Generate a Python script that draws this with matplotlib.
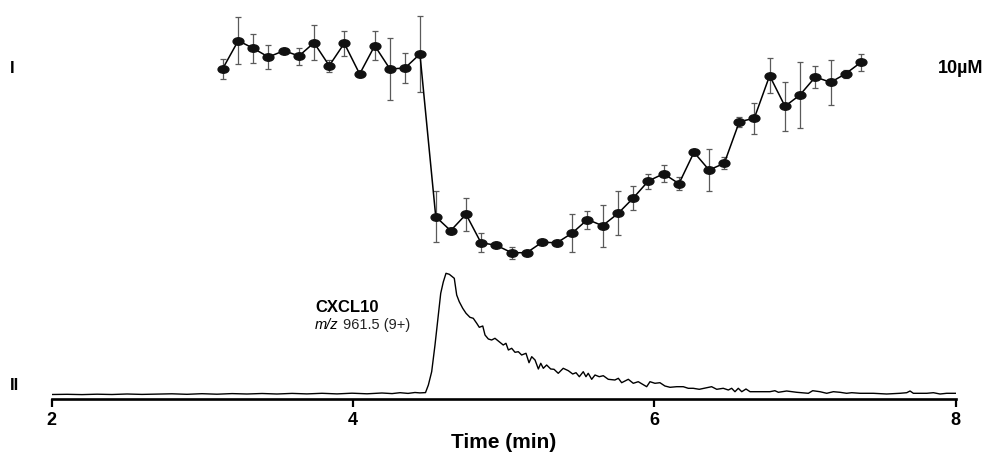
import matplotlib
matplotlib.use("Agg")
import matplotlib.pyplot as plt
from matplotlib.path import Path
from matplotlib.transforms import Affine2D

plt.rcParams["font.family"] = ["Liberation Sans", "DejaVu Sans"]

# trace I: inhibition read-out (arbitrary height units), mean +/- error
time_I = [3.135, 3.238, 3.338, 3.438, 3.542, 3.641, 3.741, 3.842, 3.942, 4.044,
          4.144, 4.245, 4.345, 4.444, 4.549, 4.648, 4.750, 4.849, 4.951, 5.053,
          5.153, 5.254, 5.354, 5.455, 5.556, 5.656, 5.760, 5.860, 5.960, 6.062,
          6.163, 6.263, 6.363, 6.464, 6.564, 6.663, 6.765, 6.867, 6.966, 7.068,
          7.170, 7.270, 7.371]
level_I = [330.3, 358.3, 350.7, 342.0, 348.3, 343.0, 356.3, 333.3, 355.7, 325.0,
           353.3, 330.0, 331.0, 345.0, 182.3, 168.3, 184.7, 156.3, 153.7, 146.3,
           146.3, 156.7, 156.3, 166.0, 179.5, 173.3, 185.7, 201.0, 218.0, 225.3,
           215.3, 246.7, 229.0, 235.7, 277.3, 280.7, 323.3, 292.7, 304.0, 322.0,
           316.7, 325.3, 336.7]
err_I = [10.0, 23.5, 14.5, 12.0, 0.0, 8.5, 17.5, 6.0, 12.5, 3.0,
         14.5, 31.0, 15.0, 38.0, 25.5, 0.0, 16.5, 9.5, 0.0, 6.0,
         0.0, 0.0, 0.0, 19.3, 9.0, 21.0, 22.0, 12.0, 7.5, 8.5,
         6.5, 0.0, 21.0, 6.0, 5.0, 15.5, 17.5, 24.5, 33.0, 11.0,
         22.5, 4.0, 8.5]

# trace II: extracted ion chromatogram of CXCL10 (arbitrary intensity units)
time_II = [2.002, 2.102, 2.201, 2.301, 2.400, 2.500, 2.599, 2.699, 2.798, 2.898,
           2.997, 3.097, 3.197, 3.296, 3.396, 3.495, 3.595, 3.694, 3.794, 3.894,
           3.993, 4.093, 4.192, 4.259, 4.312, 4.365, 4.411, 4.444, 4.481, 4.500,
           4.522, 4.544, 4.566, 4.582, 4.599, 4.617, 4.639, 4.672, 4.688, 4.705,
           4.728, 4.750, 4.776, 4.798, 4.821, 4.838, 4.861, 4.876, 4.898, 4.920,
           4.942, 4.975, 4.997, 5.015, 5.031, 5.053, 5.075, 5.097, 5.119, 5.148,
           5.168, 5.186, 5.208, 5.230, 5.246, 5.263, 5.285, 5.312, 5.334, 5.362,
           5.395, 5.429, 5.458, 5.480, 5.502, 5.528, 5.546, 5.561, 5.584, 5.606,
           5.634, 5.661, 5.694, 5.738, 5.761, 5.783, 5.827, 5.860, 5.893, 5.949,
           5.971, 6.004, 6.037, 6.070, 6.104, 6.148, 6.192, 6.225, 6.258, 6.298,
           6.380, 6.414, 6.457, 6.491, 6.513, 6.535, 6.557, 6.580, 6.608, 6.635,
           6.701, 6.767, 6.800, 6.823, 6.878, 6.945, 7.022, 7.051, 7.099, 7.144,
           7.188, 7.232, 7.276, 7.310, 7.365, 7.453, 7.542, 7.630, 7.675, 7.697,
           7.719, 7.808, 7.852, 7.896, 7.940, 8.002]
intensity_II = [4.5, 4.7, 4.4, 4.8, 4.5, 5.0, 4.6, 4.9, 5.2, 4.7,
                5.3, 4.8, 5.4, 5.0, 5.5, 5.0, 5.6, 5.1, 5.7, 5.1,
                5.8, 5.2, 6.0, 5.4, 6.3, 5.6, 6.5, 6.1, 6.4, 14.0,
                27.3, 54.0, 84.0, 105.7, 117.0, 125.7, 124.7, 120.7, 104.0, 97.3,
                90.7, 85.7, 81.7, 80.7, 75.7, 71.7, 73.0, 64.0, 60.0, 59.0,
                60.7, 56.7, 54.0, 55.7, 49.0, 50.7, 46.7, 47.3, 44.0, 45.7,
                36.3, 42.3, 39.0, 30.0, 35.7, 30.7, 34.0, 30.0, 29.7, 25.7,
                30.7, 28.3, 25.0, 26.3, 22.3, 27.3, 22.3, 25.7, 19.7, 24.0,
                22.3, 23.3, 19.7, 19.0, 20.7, 16.3, 19.7, 15.7, 17.3, 12.3,
                17.3, 15.7, 16.3, 13.0, 11.7, 12.3, 12.3, 10.7, 10.7, 9.7,
                12.3, 9.7, 10.7, 9.0, 10.7, 7.3, 10.7, 7.3, 10.0, 7.3,
                7.3, 7.3, 8.3, 6.7, 8.0, 6.7, 5.7, 8.3, 7.3, 5.7,
                7.3, 6.7, 5.7, 6.3, 5.7, 5.7, 5.0, 5.7, 6.3, 8.0,
                5.7, 5.7, 6.3, 5.0, 5.7, 5.7]

x_ticks = [2, 4, 6, 8]

fig = plt.figure(figsize=(9.85, 4.61), dpi=100)
ax = fig.add_axes([51.7 / 985, 62 / 461, 904 / 985, 399 / 461])

# flattened dot marker like the original
ellipse = Path.unit_circle().transformed(Affine2D().scale(1.45, 1.0))

ax.errorbar(time_I, level_I, yerr=err_I, fmt="none", ecolor="#5a5a5a",
            elinewidth=0.9, capsize=2, capthick=0.9, zorder=2)
ax.plot(time_I, level_I, color="black", lw=1.1, marker=ellipse, ms=7.8,
        mfc="#111111", mec="#111111", zorder=3)

ax.plot(time_II, intensity_II, color="black", lw=1.0, zorder=3)

ax.set_xlim(2, 8)
ax.set_ylim(0, 399)
ax.set_xticks(x_ticks)
ax.set_xticklabels([str(t) for t in x_ticks], fontsize=13, fontweight="bold")
ax.set_yticks([])
for side in ("left", "top", "right"):
    ax.spines[side].set_visible(False)
ax.spines["bottom"].set_linewidth(1.9)
ax.tick_params(axis="x", direction="out", length=6, width=1.6, pad=3)
ax.set_xlabel("Time (min)", fontsize=15, fontweight="bold", labelpad=3)

ax.text(3.748, 92, "CXCL10", fontsize=12, fontweight="bold", va="center")
mz = ax.text(3.748, 74, "m/z", fontsize=10.5, style="italic", va="center")
ax.annotate(" 961.5 (9+)", xy=(1, 0.5), xycoords=mz, fontsize=10.5, va="center",
            color="#222222")

fig.text(10 / 985, 1 - 68 / 461, "I", fontsize=12, fontweight="bold", va="center")
fig.text(10 / 985, 1 - 385 / 461, "II", fontsize=12, fontweight="bold", va="center")
fig.text(983 / 985, 1 - 68 / 461, "10\u00b5M", fontsize=13, fontweight="bold",
         va="center", ha="right")

fig.savefig("out.png", dpi=100, facecolor="white")
